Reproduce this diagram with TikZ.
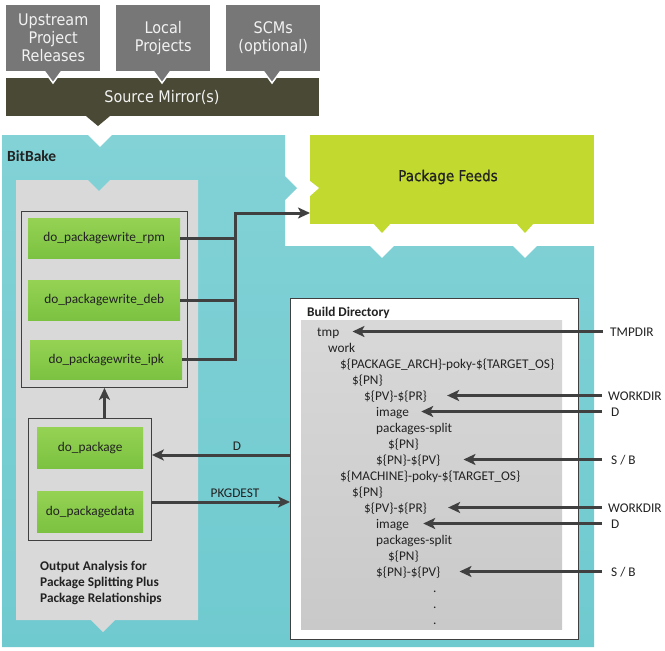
\documentclass[tikz,border=0pt]{standalone}
\usepackage{fontspec}
\setmainfont{Carlito}
\newfontfamily\dejavu{DejaVu Sans}[FakeStretch=0.9]
\newfontfamily\dejavub{DejaVu Sans}[FakeStretch=0.9,FakeBold=0.8]
\usetikzlibrary{arrows.meta}
\definecolor{cyantop}{HTML}{82D2D6}
\definecolor{cyanbot}{HTML}{6FCACF}
\definecolor{srcgray}{HTML}{777777}
\definecolor{srctext}{HTML}{F2F2F2}
\definecolor{mirror}{HTML}{4A4935}
\definecolor{panelgray}{HTML}{D9D9D9}
\definecolor{greentop}{HTML}{95D254}
\definecolor{greenbot}{HTML}{7CC241}
\definecolor{feedgreen}{HTML}{C2D92F}
\definecolor{linegray}{HTML}{404040}
\definecolor{txt}{HTML}{222222}
\definecolor{bdtop}{HTML}{D8D8D8}
\definecolor{bdbot}{HTML}{C9C9C9}
\tikzset{
  srcbox/.style={fill=srcgray, text=srctext, font=\dejavu\fontsize{16}{18}\selectfont,
    align=center, minimum width=94pt, minimum height=66pt, inner sep=0pt, anchor=north west},
  greenbox/.style={top color=greentop, bottom color=greenbot, minimum width=152pt,
    minimum height=40pt, inner sep=0pt, anchor=north west, text=txt,
    font=\fontsize{13.3}{16}\selectfont},
  grpbox/.style={draw=linegray, line width=0.9pt, inner sep=0pt, anchor=north west},
  conn/.style={line width=3pt, draw=linegray},
  arr/.style={conn, -{Stealth[length=12pt,width=11pt,inset=3pt]}},
  treetxt/.style={anchor=base west, inner sep=0pt, text=txt, font=\fontsize{13.3}{16}\selectfont},
  rlabel/.style={anchor=base west, inner sep=0pt, text=txt, text height=9pt, text depth=0pt,
    font=\fontsize{13.3}{16}\selectfont},
  boldtxt/.style={inner sep=0pt, text=txt, font=\bfseries\fontsize{13.3}{16}\selectfont},
}
\begin{document}
\begin{tikzpicture}[x=1pt,y=-1pt]
\useasboundingbox (0,0) rectangle (665,651);
\fill[white] (0,0) rectangle (665,651);

% Source mirror bar
\fill[mirror] (6,78) rectangle (319,116);
\fill[mirror] (86,116) -- (98,126) -- (110,116) -- cycle;
\node[text=srctext, font=\dejavu\fontsize{16}{18}\selectfont, inner sep=0pt] (mirrortxt) at (162,97) {Source Mirror(s)};

% pointers of source boxes
\foreach \px in {53,162,272}{
  \filldraw[fill=srcgray, draw=white, line width=1.5pt] (\px-11,68) -- (\px,83) -- (\px+11,68) -- cycle;
}
\node[srcbox] (upstream) at (6,5) {Upstream\\Project\\Releases};
\node[srcbox] (local) at (116,5) {Local\\Projects};
\node[srcbox] (scm) at (226,5) {SCMs\\(optional)};

% BitBake area
\shade[top color=cyantop, bottom color=cyanbot]
  (2,135) -- (88,135) -- (100,147) -- (112,135) -- (285,135) -- (285,176) -- (297,188)
  -- (285,200) -- (285,246) -- (370,246) -- (382,258) -- (394,246) -- (513,246)
  -- (525,258) -- (537,246) -- (594,246) -- (594,647) -- (2,647) -- cycle;
\node[boldtxt, anchor=base west, font=\bfseries\fontsize{15.5}{18}\selectfont] (bitbake) at (7,161) {BitBake};

% Package feeds
\node[fill=feedgreen, minimum width=284pt, minimum height=89pt, inner sep=0pt, anchor=north west] (feeds) at (310,135) {};
\fill[white] (310,181) -- (319,188) -- (310,196) -- cycle;
\fill[feedgreen] (373,223) -- (382,233) -- (391,223) -- cycle;
\fill[feedgreen] (516,223) -- (525,233) -- (534,223) -- cycle;
\node[text=txt, font=\dejavub\fontsize{15}{18}\selectfont, inner sep=0pt] (feedstxt) at (448,177) {Package Feeds};

% gray panel
\fill[panelgray] (16,180) -- (88,180) -- (99,191) -- (110,180) -- (198,180) -- (198,620)
  -- (115,620) -- (103,632) -- (91,620) -- (16,620) -- cycle;

% group boxes
\node[grpbox, minimum width=166pt, minimum height=176pt] (grp1) at (21,211) {};
\node[grpbox, minimum width=123pt, minimum height=122pt] (grp2) at (28,418) {};

\node[greenbox] (rpm) at (28,218) {do\_packagewrite\_rpm};
\node[greenbox] (deb) at (28,280) {do\_packagewrite\_deb};
\node[greenbox, minimum height=39pt] (ipk) at (30,340) {do\_packagewrite\_ipk};
\node[greenbox, minimum width=106pt, minimum height=41pt] (pkg) at (37,427) {do\_package};
\node[greenbox, minimum width=106pt, minimum height=41pt] (pkgdata) at (37,491) {do\_packagedata};

\node[boldtxt, anchor=north west, align=left] (analysis) at (40,561)
  {Output Analysis for\\Package Splitting Plus\\Package Relationships};

% Build directory
\node[fill=white, draw=linegray, line width=0.9pt, minimum width=288pt, minimum height=341pt,
  inner sep=0pt, anchor=north west] (bd) at (290,298) {};
\node[top color=bdtop, bottom color=bdbot, minimum width=261pt, minimum height=309pt,
  inner sep=0pt, anchor=north west] (bdin) at (301,320) {};
\node[boldtxt, anchor=base west] (bdtitle) at (307,316) {Build Directory};

\node[treetxt] (t1) at (317,336) {tmp};
\node[treetxt] (t2) at (328,352) {work};
\node[treetxt] (t3) at (340,368) {\$\{PACKAGE\_ARCH\}-poky-\$\{TARGET\_OS\}};
\node[treetxt] (t4) at (352,384) {\$\{PN\}};
\node[treetxt] (t5) at (364,400) {\$\{PV\}-\$\{PR\}};
\node[treetxt] (t6) at (376,416) {image};
\node[treetxt] (t7) at (376,432) {packages-split};
\node[treetxt] (t8) at (388,448) {\$\{PN\}};
\node[treetxt] (t9) at (376,464) {\$\{PN\}-\$\{PV\}};
\node[treetxt] (t10) at (340,480) {\$\{MACHINE\}-poky-\$\{TARGET\_OS\}};
\node[treetxt] (t11) at (352,496) {\$\{PN\}};
\node[treetxt] (t12) at (364,512) {\$\{PV\}-\$\{PR\}};
\node[treetxt] (t13) at (376,528) {image};
\node[treetxt] (t14) at (376,544) {packages-split};
\node[treetxt] (t15) at (388,560) {\$\{PN\}};
\node[treetxt] (t16) at (376,576) {\$\{PN\}-\$\{PV\}};
\node[treetxt] (dot1) at (433,592) {.};
\node[treetxt] (dot2) at (433,608) {.};
\node[treetxt] (dot3) at (433,624) {.};

% right labels
\node[rlabel] (lTMP) at (610,336) {TMPDIR};
\node[rlabel] (lW1) at (608,400) {WORKDIR};
\node[rlabel] (lD1) at (611,416) {D};
\node[rlabel] (lS1) at (611,464) {S / B};
\node[rlabel] (lW2) at (608,512) {WORKDIR};
\node[rlabel] (lD2) at (611,528) {D};
\node[rlabel] (lS2) at (611,576) {S / B};

\draw[arr] ([xshift=-7pt]lTMP.west) -- ([xshift=13pt]t1.east |- lTMP.west);
\draw[arr] ([xshift=-6pt]lW1.west) -- ([xshift=20pt]t5.east |- lW1.west);
\draw[arr] ([xshift=-9pt]lD1.west) -- ([xshift=12pt]t6.east |- lD1.west);
\draw[arr] ([xshift=-9pt]lS1.west) -- ([xshift=23pt]t9.east |- lS1.west);
\draw[arr] ([xshift=-6pt]lW2.west) -- ([xshift=21pt]t12.east |- lW2.west);
\draw[arr] ([xshift=-9pt]lD2.west) -- ([xshift=14pt]t13.east |- lD2.west);
\draw[arr] ([xshift=-9pt]lS2.west) -- ([xshift=19pt]t16.east |- lS2.west);

% connectors
\coordinate (jn) at (235,213);
\draw[conn] (rpm.east) -- (rpm.east -| jn);
\draw[conn] (deb.east) -- (deb.east -| jn);
\draw[arr] (ipk.east) -| (jn) -- (feeds.west |- jn);
\draw[arr] (grp1.south |- grp2.north) -- (grp1.south);

\coordinate (dy) at (0,455);
\coordinate (py) at (0,502);
\draw[arr] (bd.west |- dy) -- (grp2.east |- dy);
\draw[arr] (grp2.east |- py) -- (bd.west |- py);
\node[rlabel, anchor=base] (lD) at (237,450) {D};
\node[rlabel, anchor=base] (lPKG) at (235,497) {PKGDEST};
\end{tikzpicture}
\end{document}
